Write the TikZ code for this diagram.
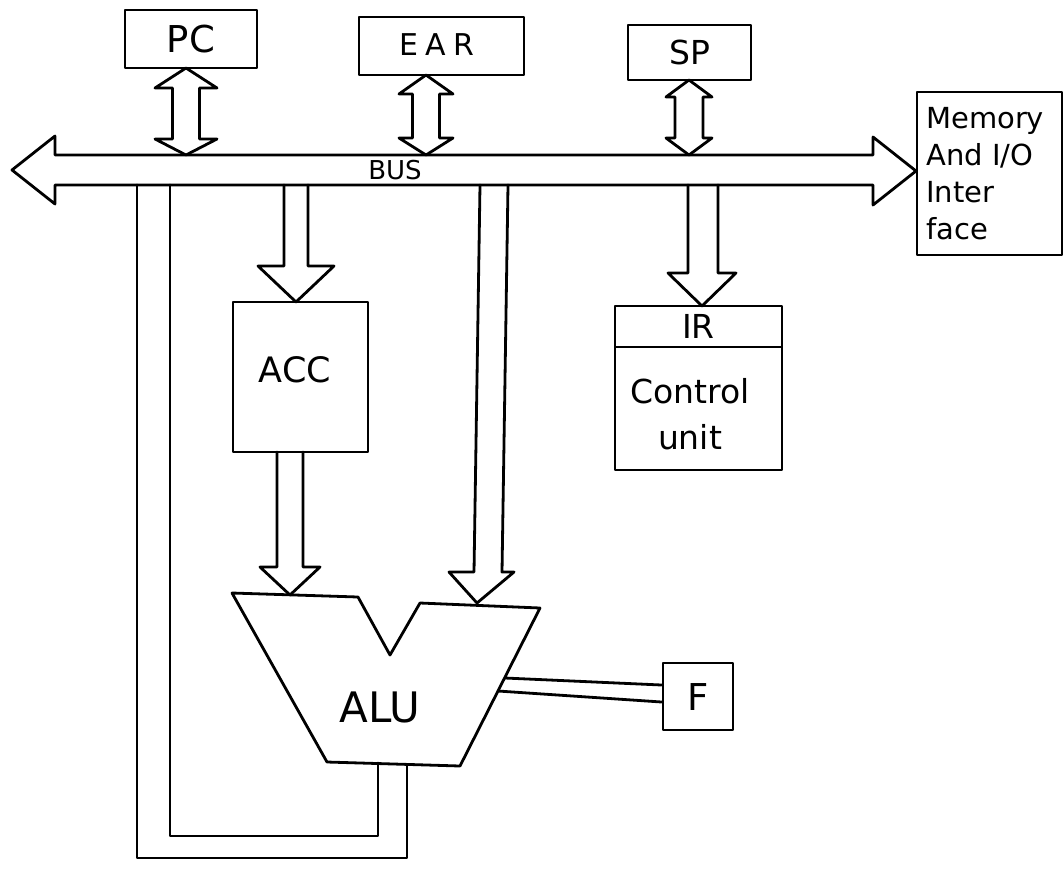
\documentclass[tikz,border=0pt]{standalone}
\usepackage{fontspec}
\setmainfont{DejaVu Sans}
\newcommand\fsz[2]{\fontsize{#1}{#2}\selectfont}
\begin{document}
\begin{tikzpicture}[x=1pt,y=-1pt,
  penline/.style={line width=2.8pt, line join=round, line cap=round},
  regbox/.style={penline, draw, inner sep=0pt},
  lbl/.style={inner sep=0pt}]
\useasboundingbox (0,0) rectangle (1064,868);

% ---------- registers and interface boxes ----------
\node[regbox, minimum width=132pt, minimum height=58pt, font=\fsz{37}{40}] (pc) at (191,39) {PC};
\node[regbox, minimum width=165pt, minimum height=58pt] (ear) at (441.5,46) {};
\node[lbl, font=\fsz{30}{34}\addfontfeature{LetterSpace=25}] (eartxt) at (437,45) {EAR};
\node[regbox, minimum width=123pt, minimum height=55pt, font=\fsz{33}{36}] (sp) at (689.5,52.5) {SP};
\node[regbox, minimum width=145pt, minimum height=163pt] (mem) at (989.5,173.5) {};
\node[lbl, anchor=north west, align=left, font=\fsz{29}{37}] (memtxt) at (926,107) {Memory\\And I/O\\Inter\\face};

\node[regbox, minimum width=135pt, minimum height=150pt] (acc) at (300.5,377) {};
\node[lbl, font=\fsz{35}{38}] (acctxt) at (295,370) {ACC};

\node[regbox, minimum width=167pt, minimum height=41pt, font=\fsz{33}{36}] (ir) at (698.5,326.5) {IR};
\node[regbox, minimum width=167pt, minimum height=123pt] (cu) at (698.5,408.5) {};
\node[lbl, align=center, font=\fsz{33}{46}] (cutxt) at (690,414) {Control\\unit};

\node[regbox, minimum width=70pt, minimum height=67pt, font=\fsz{37}{40}] (f) at (698,696.5) {F};

% ---------- bus ----------
\draw[penline] (55,155) -- (55,136) -- (12,170) -- (55,204) -- (55,185) -- (873,185)
  -- (873,205) -- (916,171) -- (873,137) -- (873,155) -- cycle;
\node[lbl, font=\fsz{26}{30}] (bus) at (395,170) {BUS};

% ---------- bidirectional register arrows ----------
\draw[penline] (186,68) -- (217,88) -- (199.5,88) -- (199.5,139) -- (217,139) -- (186,155)
  -- (155,139) -- (172.5,139) -- (172.5,88) -- (155,88) -- cycle;
\draw[penline] (426,75) -- (453,94) -- (439.5,94) -- (439.5,138) -- (453,138) -- (426,155)
  -- (399,138) -- (412.5,138) -- (412.5,94) -- (399,94) -- cycle;
\draw[penline] (689,80) -- (712,97) -- (703,97) -- (703,138) -- (712,138) -- (689,155)
  -- (666,138) -- (675,138) -- (675,97) -- (666,97) -- cycle;

% ---------- one-way data arrows ----------
\draw[penline] (284,185) -- (284,266) -- (258,266) -- (296,302) -- (334,266) -- (308,266) -- (308,185);
\draw[penline] (277,452) -- (277,567) -- (260,567) -- (290,595) -- (320,567) -- (303,567) -- (303,452);
\draw[penline] (480,185) -- (474,572) -- (449,572) -- (477,603) -- (514,572) -- (502,572) -- (508,185);
\draw[penline] (688,185) -- (688,273) -- (668,273) -- (702,306) -- (736,273) -- (718,273) -- (718,185);

% ---------- ALU ----------
\draw[penline] (232,593) -- (358,597) -- (390,655) -- (420,603) -- (540,608) -- (460,766) -- (327,762) -- cycle;
\node[lbl, font=\fsz{42}{46}] (alu) at (380,707) {ALU};

% ---------- ALU to flags ----------
\draw[penline] (505,678) -- ([yshift=11.5pt]f.west);
\draw[penline] (498,691) -- ([yshift=-5.5pt]f.west);

% ---------- ALU output back to bus ----------
\draw[penline] (137,185) -- (137,858) -- (407,858) -- (407,765);
\draw[penline] (170,185) -- (170,836) -- (378,836) -- (378,763);
\end{tikzpicture}
\end{document}
